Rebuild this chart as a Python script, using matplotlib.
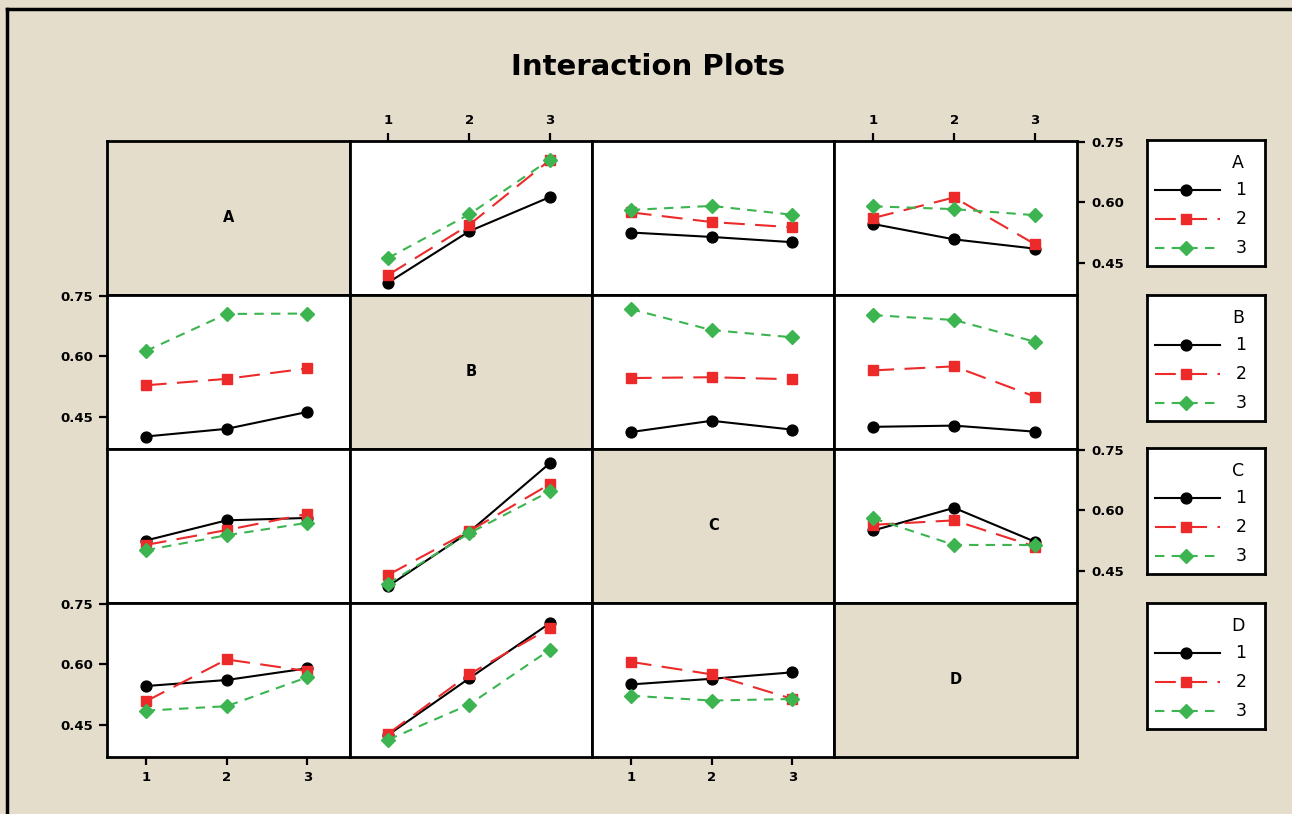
import numpy as np
import matplotlib.pyplot as plt
from matplotlib.lines import Line2D

factors = ["A", "B", "C", "D"]
levels = [1, 2, 3]

# cell means: rows = level of first factor, columns = level of second factor
AB = [[0.401, 0.528, 0.613],
      [0.420, 0.544, 0.705],
      [0.462, 0.570, 0.706]]
AC = [[0.525, 0.514, 0.501],
      [0.575, 0.551, 0.538],
      [0.581, 0.591, 0.569]]
AD = [[0.546, 0.508, 0.485],
      [0.561, 0.612, 0.496],
      [0.590, 0.583, 0.568]]
BC = [[0.412, 0.440, 0.418],
      [0.546, 0.548, 0.543],
      [0.717, 0.665, 0.647]]
BD = [[0.425, 0.428, 0.413],
      [0.565, 0.575, 0.500],
      [0.702, 0.690, 0.636]]
CD = [[0.550, 0.606, 0.522],
      [0.564, 0.575, 0.510],
      [0.580, 0.514, 0.514]]

pairs = {("A", "B"): AB, ("A", "C"): AC, ("A", "D"): AD,
         ("B", "C"): BC, ("B", "D"): BD, ("C", "D"): CD}

y_ticks = [0.45, 0.60, 0.75]


def cell_means(row_f, col_f):
    if (row_f, col_f) in pairs:
        return np.array(pairs[(row_f, col_f)])
    return np.array(pairs[(col_f, row_f)]).T


BG = "#e5ddcc"
styles = [
    dict(color="black", ls="-", marker="o", ms=7.8),
    dict(color="#ec2a2a", ls=(0, (10, 5)), marker="s", ms=7.2),
    dict(color="#3cb450", ls=(0, (4.5, 3.5)), marker="D", ms=6.8),
]

W, H = 1292, 814
fig, axes = plt.subplots(4, 4, figsize=(W / 100, H / 100), dpi=100)
fig.patch.set_facecolor(BG)
plt.subplots_adjust(left=107 / W, right=1077 / W, top=1 - 141 / H,
                    bottom=1 - 757 / H, wspace=0, hspace=0)

for r, rf in enumerate(factors):
    for c, cf in enumerate(factors):
        ax = axes[r, c]
        for s in ax.spines.values():
            s.set_linewidth(2)
        ax.set_xlim(0.52, 3.52)
        ax.set_ylim(0.37, 0.752)
        ax.set_xticks(levels, [str(v) for v in levels], fontweight="bold")
        ax.set_yticks(y_ticks, [f"{v:.2f}" for v in y_ticks], fontweight="bold")
        ax.tick_params(direction="out", length=6, width=1.6, pad=4,
                       labelsize=9.5, bottom=False, top=False, left=False, right=False,
                       labelbottom=False, labeltop=False, labelleft=False, labelright=False)

        if r == 0 and c in (1, 3):
            ax.tick_params(axis="x", top=True, labeltop=True)
        if r == 3 and c in (0, 2):
            ax.tick_params(axis="x", bottom=True, labelbottom=True)
        if c == 0 and r in (1, 3):
            ax.tick_params(axis="y", left=True, labelleft=True)
        if c == 3 and r in (0, 2):
            ax.tick_params(axis="y", right=True, labelright=True)

        if r == c:
            ax.set_facecolor(BG)
            ax.text(0.5, 0.5, rf, transform=ax.transAxes, ha="center", va="center",
                    fontsize=10.5, fontweight="bold")
            continue

        m = cell_means(rf, cf)
        for i, lv in enumerate(levels):
            ax.plot(levels, m[i], lw=1.5, label=str(lv), **styles[i])

# legends, one box per factor
box_tops = [140, 295, 448, 603]
for k, f in enumerate(factors):
    top = box_tops[k]
    lax = fig.add_axes([1147 / W, 1 - (top + 126) / H, 118 / W, 126 / H])
    lax.set_xlim(0, 118)
    lax.set_ylim(126, 0)
    lax.set_xticks([])
    lax.set_yticks([])
    lax.set_facecolor("white")
    for s in lax.spines.values():
        s.set_linewidth(2)
    lax.text(91, 23, f, ha="center", va="center", fontsize=12.5)
    for i, lv in enumerate(levels):
        y = 50 + 29 * i
        lax.plot([8, 39, 73], [y, y, y], markevery=[1], lw=1.5, **styles[i])
        lax.text(94, y, str(lv), ha="center", va="center", fontsize=12.5)

fig.text(648 / W, 1 - 67 / H, "Interaction Plots", ha="center", va="center",
         fontsize=21, fontweight="bold")

# outer frame (left and top edges)
fig.add_artist(Line2D([7 / W, 7 / W], [0, 1 - 9 / H], transform=fig.transFigure,
                      color="black", lw=2.5))
fig.add_artist(Line2D([7 / W, 1], [1 - 9 / H, 1 - 9 / H], transform=fig.transFigure,
                      color="black", lw=2.5))

fig.savefig("out.png", dpi=100, facecolor=BG)
